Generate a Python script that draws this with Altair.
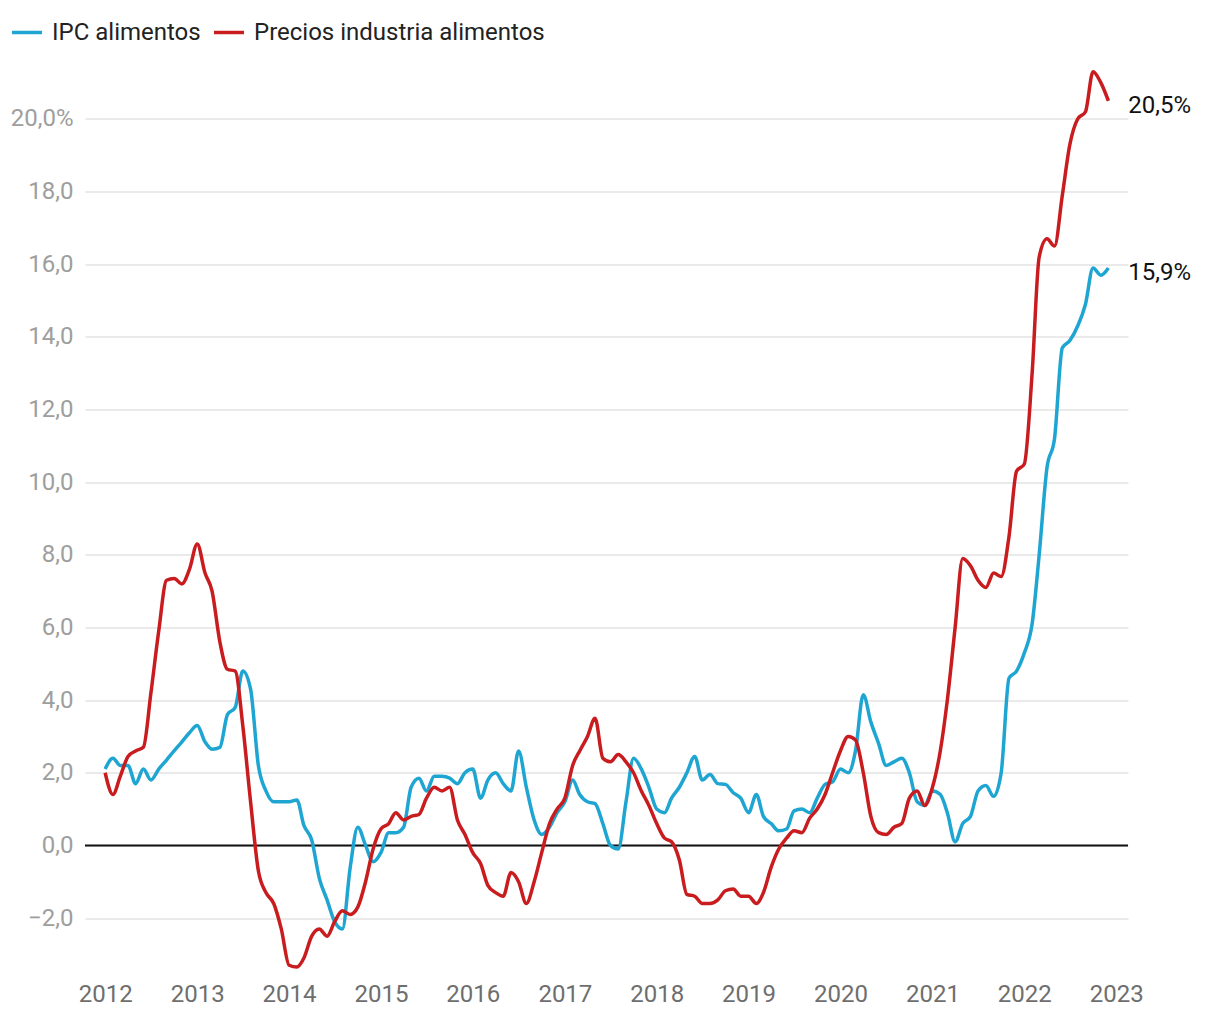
import altair as alt
import pandas as pd

SERIES = ["IPC alimentos", "Precios industria alimentos"]
COLORS = ["#1ea5d2", "#c91c1f"]

# Monthly values, Jan 2012 .. Dec 2022
ipc = [
    2.1, 2.4, 2.2, 2.2, 1.7, 2.1, 1.8, 2.1, 2.35, 2.6, 2.85, 3.1,
    3.3, 2.85, 2.65, 2.7, 3.6, 3.8, 4.8, 4.3, 2.2, 1.5, 1.2, 1.2,
    1.2, 1.25, 0.55, 0.15, -0.9, -1.5, -2.1, -2.3, -0.6, 0.5, 0.0, -0.45,
    -0.2, 0.35, 0.35, 0.5, 1.6, 1.85, 1.5, 1.9, 1.9, 1.85, 1.7, 2.0,
    2.1, 1.3, 1.8, 2.0, 1.7, 1.5, 2.6, 1.6, 0.7, 0.3, 0.5, 0.9,
    1.2, 1.8, 1.4, 1.2, 1.15, 0.6, 0.0, -0.1, 1.2, 2.4, 2.1, 1.6,
    1.0, 0.9, 1.3, 1.6, 2.0, 2.45, 1.8, 1.95, 1.7, 1.68, 1.45, 1.3,
    0.9, 1.4, 0.8, 0.6, 0.4, 0.45, 0.95, 1.0, 0.9, 1.3, 1.68, 1.75,
    2.1, 2.0, 2.6, 4.15, 3.4, 2.8, 2.2, 2.3, 2.4, 2.0, 1.2, 1.1,
    1.5, 1.4, 0.9, 0.1, 0.6, 0.8, 1.5, 1.65, 1.35, 2.0, 4.6, 4.8,
    5.3, 6.1, 8.0, 10.4, 11.2, 13.7, 13.9, 14.3, 14.9, 15.9, 15.7, 15.9,
]
industria = [
    2.0, 1.4, 1.9, 2.45, 2.6, 2.7, 4.2, 5.9, 7.3, 7.35, 7.2, 7.6,
    8.3, 7.5, 7.0, 5.6, 4.85, 4.8, 3.3, 1.2, -0.7, -1.3, -1.6, -2.3,
    -3.3, -3.35, -3.1, -2.5, -2.3, -2.5, -2.1, -1.8, -1.9, -1.7, -1.0, -0.1,
    0.45, 0.6, 0.9, 0.7, 0.8, 0.85, 1.3, 1.6, 1.5, 1.6, 0.7, 0.3,
    -0.2, -0.5, -1.1, -1.3, -1.4, -0.75, -1.0, -1.6, -1.0, -0.2, 0.6, 1.0,
    1.3, 2.2, 2.6, 3.0, 3.5, 2.4, 2.3, 2.5, 2.3, 2.0, 1.5, 1.1,
    0.6, 0.2, 0.1, -0.4, -1.35, -1.4, -1.6, -1.6, -1.5, -1.25, -1.2, -1.4,
    -1.4, -1.6, -1.3, -0.6, -0.1, 0.2, 0.4, 0.35, 0.75, 1.0, 1.4, 2.0,
    2.6, 3.0, 2.9, 2.0, 0.8, 0.35, 0.3, 0.5, 0.6, 1.3, 1.5, 1.1,
    1.6, 2.6, 4.0, 6.0, 7.9, 7.7, 7.3, 7.1, 7.5, 7.4, 8.5, 10.3,
    10.5, 13.0, 16.2, 16.7, 16.5, 17.9, 19.3, 20.0, 20.2, 21.3, 21.0, 20.5,
]
y_ticks = [-2, 0, 2, 4, 6, 8, 10, 12, 14, 16, 18, 20]
year_ticks = list(range(2012, 2024))

dates = [d.strftime("%Y-%m-%dT00:00:00") for d in pd.date_range("2012-01-01", periods=len(ipc), freq="MS")]

rows = []
for name, vals in zip(SERIES, [ipc, industria]):
    for d, v in zip(dates, vals):
        rows.append({"fecha": d, "serie": name, "valor": v})
df = pd.DataFrame(rows)

end_df = pd.DataFrame({
    "fecha": [dates[-1], dates[-1]],
    "serie": SERIES,
    "valor": [ipc[-1], industria[-1]],
    "label": [f"{ipc[-1]:.1f}".replace(".", ",") + "%", f"{industria[-1]:.1f}".replace(".", ",") + "%"],
})

x_scale = alt.Scale(domain=[alt.DateTime(year=2011, month=10, date=13),
                            alt.DateTime(year=2023, month=2, date=17)])
y_scale = alt.Scale(domain=[-3.5, 21.5], nice=False, zero=False)
color_scale = alt.Scale(domain=SERIES, range=COLORS)

x_enc = alt.X(
    "fecha:T", scale=x_scale, title=None,
    axis=alt.Axis(
        values=[alt.DateTime(year=y, month=1, date=1) for y in year_ticks],
        format="%Y", grid=False, domain=False, ticks=False,
        labelFontSize=24, labelColor="#6e6e6e", labelFont="Roboto",
        labelPadding=10, labelFlush=False,
    ),
)
y_enc = alt.Y(
    "valor:Q", scale=y_scale, title=None,
    axis=alt.Axis(
        values=y_ticks, grid=True, gridColor="#e3e3e3", gridWidth=1.5,
        domain=False, ticks=False, labelFontSize=24, labelColor="#9e9e9e",
        labelFont="Roboto", labelPadding=12,
        labelExpr="(datum.value == 20 ? '20,0%' : replace(replace(format(datum.value, '.1f'), '.', ','), '-', '\u2212'))",
    ),
)

lines = alt.Chart(df).mark_line(interpolate="monotone", strokeWidth=3.5).encode(
    x=x_enc,
    y=y_enc,
    color=alt.Color(
        "serie:N", scale=color_scale, title=None,
        legend=alt.Legend(
            orient="none", legendX=-75, legendY=-49, direction="horizontal",
            symbolType="stroke", symbolSize=900, symbolStrokeWidth=3.5,
            labelFontSize=24, labelFont="Roboto", labelColor="#222222",
            labelOffset=8, columnPadding=6, labelLimit=0, title=None,
        ),
    ),
    detail="serie:N",
)

zero = alt.Chart(pd.DataFrame({"y": [0]})).mark_rule(color="#111111", strokeWidth=2).encode(
    y=alt.Y("y:Q", scale=y_scale)
)

labels = alt.Chart(end_df).mark_text(
    align="left", baseline="middle", dx=20, dy=5, fontSize=24, font="Roboto", color="#111111"
).encode(
    x=alt.X("fecha:T", scale=x_scale),
    y=alt.Y("valor:Q", scale=y_scale),
    text="label:N",
)

chart = alt.layer(zero, lines, labels).properties(
    width=1043, height=908,
    autosize=alt.AutoSizeParams(type="none"),
    padding={"left": 77, "top": 56.5, "right": 84, "bottom": 40},
).configure_view(stroke=None)

chart.save("out.html", embed_options={"renderer": "svg", "actions": False})
